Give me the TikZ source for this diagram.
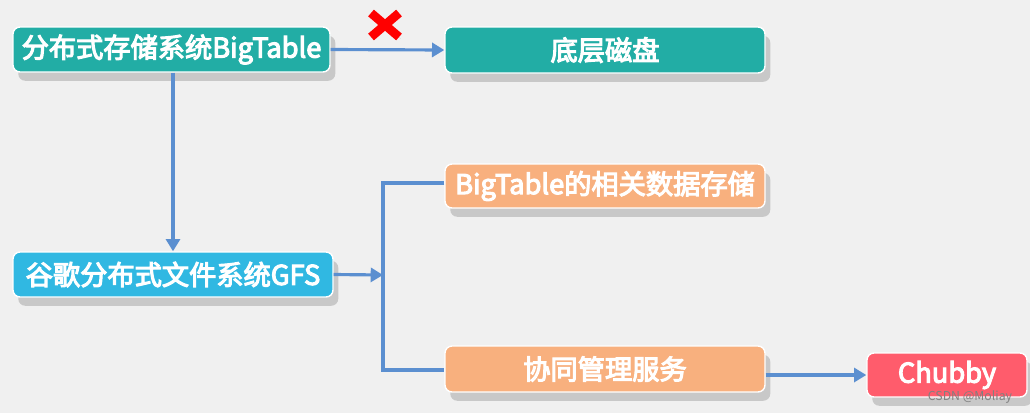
\documentclass[tikz,border=0pt]{standalone}
\usepackage{fontspec}
\setmainfont{Noto Sans CJK SC}[AutoFakeBold=4]
\usetikzlibrary{arrows.meta,shadows}
\definecolor{bg}{HTML}{F0F0F0}
\definecolor{teal1}{HTML}{22ADA5}
\definecolor{cyan1}{HTML}{30B8E2}
\definecolor{orng}{HTML}{F8B07E}
\definecolor{redb}{HTML}{FF5C6C}
\definecolor{ln}{HTML}{5B8FD0}
\tikzset{
 box/.style={rounded corners=4pt,draw=white,line width=0.8pt,text=white,font=\bfseries\fontsize{15.5}{17}\selectfont,inner sep=0pt,drop shadow={shadow xshift=3pt,shadow yshift=-5pt,opacity=0.35}},
 conn/.style={draw=ln,line width=1.8pt,-{Triangle[length=7pt,width=8pt]}},
 plain/.style={draw=ln,line width=1.8pt}
}
\begin{document}
\begin{tikzpicture}[x=0.02cm,y=-0.02cm]
\fill[bg] (0,0) rectangle (1030,413);
\useasboundingbox (0,0) rectangle (1030,413);
\node[box,fill=teal1,minimum width=317*0.02cm,minimum height=45*0.02cm] (A) at (171.5,49.5) {分布式存储系统BigTable};
\node[box,fill=teal1,minimum width=320*0.02cm,minimum height=46*0.02cm] (B) at (605,50) {底层磁盘};
\node[box,fill=cyan1,minimum width=320*0.02cm,minimum height=45*0.02cm] (C) at (173,274.5) {谷歌分布式文件系统GFS};
\node[box,fill=orng,minimum width=320*0.02cm,minimum height=44*0.02cm] (D) at (605,186) {BigTable的相关数据存储};
\node[box,fill=orng,minimum width=320*0.02cm,minimum height=46*0.02cm] (E) at (605,369) {协同管理服务};
\node[box,fill=redb,minimum width=160*0.02cm,minimum height=44*0.02cm] (F) at (947,375) {Chubby};
\coordinate (J) at (383,275);
\coordinate (Jt) at (383,183);
\coordinate (Jb) at (383,370);
\draw[conn] (A.east) -- (B.west);
\draw[conn] (A.south -| 173,0) -- (C.north -| 173,0);
\draw[conn] (C.east) -- (J);
\draw[plain] (D.west |- Jt) -- (Jt) -- (Jb) -- (E.west |- Jb);
\draw[conn] (E.east |- 0,375) -- (F.west);
\coordinate (X) at (385,25);
\draw[red,line width=5pt,drop shadow={shadow xshift=1pt,shadow yshift=-1pt,opacity=0.4}] ([shift={(-14,-12)}]X) -- ([shift={(14,12)}]X) ([shift={(-14,12)}]X) -- ([shift={(14,-12)}]X);
\node[font=\fontsize{7}{8}\selectfont,text=gray] (W) at (970,397) {CSDN @Moliay};
\end{tikzpicture}
\end{document}
